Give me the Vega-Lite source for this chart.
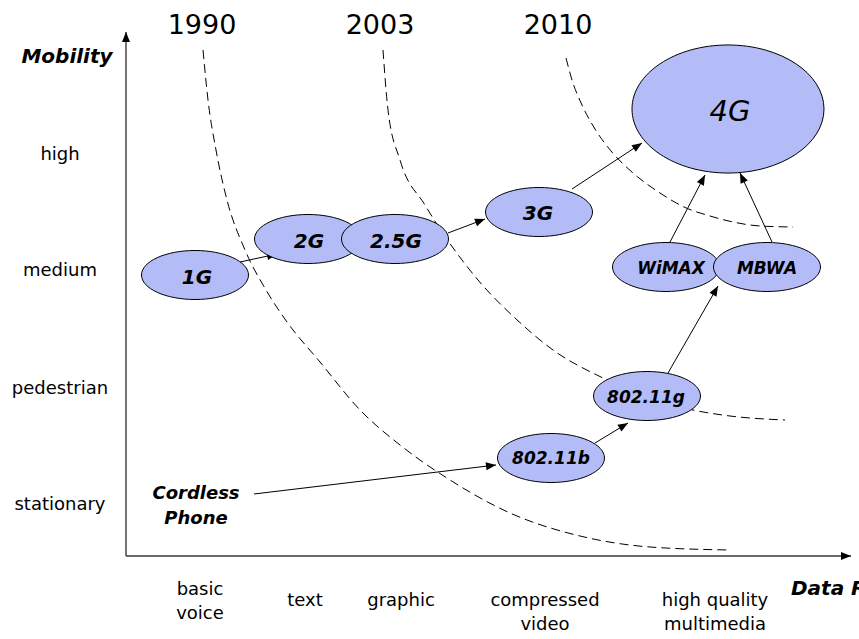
{
  "$schema": "https://vega.github.io/schema/vega-lite/v6.json",
  "width": 859,
  "height": 639,
  "autosize": {"type": "none"},
  "padding": 0,
  "background": "white",
  "config": {"view": {"stroke": null}, "font": "DejaVu Sans"},
  "datasets": {
    "curves": [
      {"curve": "1990", "i": 0, "x": 203, "y": 50},
      {"curve": "1990", "i": 1, "x": 208, "y": 100},
      {"curve": "1990", "i": 2, "x": 216, "y": 150},
      {"curve": "1990", "i": 3, "x": 227, "y": 200},
      {"curve": "1990", "i": 4, "x": 245, "y": 250},
      {"curve": "1990", "i": 5, "x": 266, "y": 290},
      {"curve": "1990", "i": 6, "x": 287, "y": 322},
      {"curve": "1990", "i": 7, "x": 320, "y": 362},
      {"curve": "1990", "i": 8, "x": 360, "y": 410},
      {"curve": "1990", "i": 9, "x": 400, "y": 445},
      {"curve": "1990", "i": 10, "x": 450, "y": 480},
      {"curve": "1990", "i": 11, "x": 510, "y": 513},
      {"curve": "1990", "i": 12, "x": 580, "y": 536},
      {"curve": "1990", "i": 13, "x": 650, "y": 547},
      {"curve": "1990", "i": 14, "x": 730, "y": 550},
      {"curve": "2003", "i": 0, "x": 383, "y": 50},
      {"curve": "2003", "i": 1, "x": 388, "y": 110},
      {"curve": "2003", "i": 2, "x": 400, "y": 160},
      {"curve": "2003", "i": 3, "x": 425, "y": 205},
      {"curve": "2003", "i": 4, "x": 478, "y": 280},
      {"curve": "2003", "i": 5, "x": 515, "y": 318},
      {"curve": "2003", "i": 6, "x": 553, "y": 350},
      {"curve": "2003", "i": 7, "x": 603, "y": 378},
      {"curve": "2003", "i": 8, "x": 650, "y": 398},
      {"curve": "2003", "i": 9, "x": 693, "y": 410},
      {"curve": "2003", "i": 10, "x": 730, "y": 416},
      {"curve": "2003", "i": 11, "x": 785, "y": 420},
      {"curve": "2010", "i": 0, "x": 566, "y": 58},
      {"curve": "2010", "i": 1, "x": 572, "y": 80},
      {"curve": "2010", "i": 2, "x": 582, "y": 105},
      {"curve": "2010", "i": 3, "x": 595, "y": 129},
      {"curve": "2010", "i": 4, "x": 611, "y": 151},
      {"curve": "2010", "i": 5, "x": 633, "y": 173},
      {"curve": "2010", "i": 6, "x": 660, "y": 193},
      {"curve": "2010", "i": 7, "x": 684, "y": 207},
      {"curve": "2010", "i": 8, "x": 710, "y": 216},
      {"curve": "2010", "i": 9, "x": 733, "y": 222},
      {"curve": "2010", "i": 10, "x": 760, "y": 226},
      {"curve": "2010", "i": 11, "x": 793, "y": 227}
    ],
    "arrows": [
      {"kind": "axis", "x1": 126, "y1": 556, "x2": 126, "y2": 32},
      {"kind": "axis", "x1": 126, "y1": 556, "x2": 851, "y2": 556},
      {"kind": "link", "x1": 240, "y1": 262, "x2": 277, "y2": 254},
      {"kind": "link", "x1": 448, "y1": 233, "x2": 485, "y2": 219},
      {"kind": "link", "x1": 572, "y1": 189, "x2": 642, "y2": 143},
      {"kind": "link", "x1": 670, "y1": 242, "x2": 705, "y2": 175},
      {"kind": "link", "x1": 772, "y1": 242, "x2": 740, "y2": 173},
      {"kind": "link", "x1": 668, "y1": 373, "x2": 718, "y2": 286},
      {"kind": "link", "x1": 595, "y1": 443, "x2": 628, "y2": 423},
      {"kind": "link", "x1": 254, "y1": 494, "x2": 496, "y2": 465}
    ],
    "nodes": [
      {"name": "1G", "size": "small", "x": 195, "y": 275},
      {"name": "2G", "size": "small", "x": 308, "y": 239},
      {"name": "2.5G", "size": "small", "x": 395, "y": 239},
      {"name": "3G", "size": "small", "x": 539, "y": 212},
      {"name": "4G", "size": "big", "x": 728, "y": 109},
      {"name": "WiMAX", "size": "small", "x": 666, "y": 267},
      {"name": "MBWA", "size": "small", "x": 767, "y": 267},
      {"name": "802.11g", "size": "small", "x": 647, "y": 396},
      {"name": "802.11b", "size": "small", "x": 551, "y": 458}
    ],
    "labels": [
      {"style": "year", "text": "1990", "x": 202, "y": 26},
      {"style": "year", "text": "2003", "x": 380, "y": 26},
      {"style": "year", "text": "2010", "x": 558, "y": 26},
      {"style": "title", "text": "Mobility", "x": 67, "y": 57},
      {"style": "titleLeft", "text": "Data Rate", "x": 791, "y": 589},
      {"style": "tick", "text": ["high"], "x": 60, "y": 155},
      {"style": "tick", "text": ["medium"], "x": 60, "y": 271},
      {"style": "tick", "text": ["pedestrian"], "x": 60, "y": 389},
      {"style": "tick", "text": ["stationary"], "x": 60, "y": 505},
      {"style": "tick", "text": ["basic", "voice"], "x": 200, "y": 590},
      {"style": "tick", "text": ["text"], "x": 305, "y": 601},
      {"style": "tick", "text": ["graphic"], "x": 401, "y": 601},
      {"style": "tick", "text": ["compressed", "video"], "x": 545, "y": 601},
      {"style": "tick", "text": ["high quality", "multimedia"], "x": 715, "y": 601},
      {"style": "cordless", "text": ["Cordless", "Phone"], "x": 196, "y": 494},
      {"style": "node", "text": "1G", "x": 197, "y": 278},
      {"style": "node", "text": "2G", "x": 309, "y": 242},
      {"style": "node", "text": "2.5G", "x": 396, "y": 242},
      {"style": "node", "text": "3G", "x": 538, "y": 214},
      {"style": "node4g", "text": "4G", "x": 730, "y": 112},
      {"style": "nodeSmall", "text": "WiMAX", "x": 671, "y": 269},
      {"style": "nodeSmall", "text": "MBWA", "x": 767, "y": 269},
      {"style": "nodeSmall", "text": "802.11g", "x": 646, "y": 398},
      {"style": "nodeSmall", "text": "802.11b", "x": 551, "y": 459}
    ]
  },
  "resolve": {"scale": {"x": "shared", "y": "shared"}},
  "encoding": {
    "x": {"field": "x", "type": "quantitative", "axis": null, "scale": {"domain": [0, 859], "nice": false, "zero": false}},
    "y": {"field": "y", "type": "quantitative", "axis": null, "scale": {"domain": [0, 639], "nice": false, "zero": false, "reverse": true}}
  },
  "layer": [
    {
      "data": {"name": "curves"},
      "mark": {"type": "line", "color": "black", "strokeWidth": 1, "strokeDash": [9, 5], "interpolate": "monotone"},
      "encoding": {"detail": {"field": "curve"}, "order": {"field": "i", "type": "quantitative"}}
    },
    {
      "data": {"name": "arrows"},
      "transform": [{"filter": "datum.kind == 'link'"}],
      "mark": {"type": "rule", "color": "black", "strokeWidth": 1},
      "encoding": {
        "x": {"field": "x1", "type": "quantitative"},
        "y": {"field": "y1", "type": "quantitative"},
        "x2": {"field": "x2"},
        "y2": {"field": "y2"}
      }
    },
    {
      "data": {"name": "arrows"},
      "transform": [{"filter": "datum.kind == 'axis'"}],
      "mark": {"type": "rule", "color": "#3a3a3a", "strokeWidth": 1.4},
      "encoding": {
        "x": {"field": "x1", "type": "quantitative"},
        "y": {"field": "y1", "type": "quantitative"},
        "x2": {"field": "x2"},
        "y2": {"field": "y2"}
      }
    },
    {
      "data": {"name": "arrows"},
      "transform": [
        {"calculate": "sqrt(pow(datum.x2 - datum.x1, 2) + pow(datum.y2 - datum.y1, 2))", "as": "len"},
        {"calculate": "atan2(datum.x2 - datum.x1, -(datum.y2 - datum.y1)) * 180 / PI", "as": "ang"},
        {"calculate": "datum.x2 - (datum.x2 - datum.x1) / datum.len * 5", "as": "hx"},
        {"calculate": "datum.y2 - (datum.y2 - datum.y1) / datum.len * 5", "as": "hy"}
      ],
      "mark": {"type": "point", "shape": "M0,-1L-0.8,1L0.8,1Z", "size": 100, "filled": true, "color": "black", "opacity": 1},
      "encoding": {
        "x": {"field": "hx", "type": "quantitative"},
        "y": {"field": "hy", "type": "quantitative"},
        "angle": {"field": "ang", "type": "quantitative", "scale": null}
      }
    },
    {
      "data": {"name": "nodes"},
      "transform": [{"filter": "datum.size == 'small'"}],
      "mark": {"type": "point", "shape": "M-1,0C-1,-0.253,-0.552,-0.458,0,-0.458C0.552,-0.458,1,-0.253,1,0C1,0.253,0.552,0.458,0,0.458C-0.552,0.458,-1,0.253,-1,0Z", "size": 11449, "filled": true, "fill": "#B3BCF6", "stroke": "black", "strokeWidth": 1, "opacity": 1, "fillOpacity": 1}
    },
    {
      "data": {"name": "nodes"},
      "transform": [{"filter": "datum.size == 'big'"}],
      "mark": {"type": "point", "shape": "M-1,0C-1,-0.368,-0.552,-0.667,0,-0.667C0.552,-0.667,1,-0.368,1,0C1,0.368,0.552,0.667,0,0.667C-0.552,0.667,-1,0.368,-1,0Z", "size": 36864, "filled": true, "fill": "#B3BCF6", "stroke": "black", "strokeWidth": 1, "opacity": 1, "fillOpacity": 1}
    },
    {
      "data": {"name": "labels"},
      "transform": [{"filter": "datum.style == 'year'"}],
      "mark": {"type": "text", "fontSize": 27, "align": "center", "baseline": "middle", "color": "black"},
      "encoding": {"text": {"field": "text"}}
    },
    {
      "data": {"name": "labels"},
      "transform": [{"filter": "datum.style == 'title'"}],
      "mark": {"type": "text", "fontSize": 20, "fontWeight": "bold", "fontStyle": "italic", "align": "center", "baseline": "middle", "color": "black"},
      "encoding": {"text": {"field": "text"}}
    },
    {
      "data": {"name": "labels"},
      "transform": [{"filter": "datum.style == 'titleLeft'"}],
      "mark": {"type": "text", "fontSize": 20, "fontWeight": "bold", "fontStyle": "italic", "align": "left", "baseline": "middle", "color": "black"},
      "encoding": {"text": {"field": "text"}}
    },
    {
      "data": {"name": "labels"},
      "transform": [{"filter": "datum.style == 'tick'"}],
      "mark": {"type": "text", "fontSize": 18, "lineHeight": 24, "align": "center", "baseline": "middle", "color": "black"},
      "encoding": {"text": {"field": "text"}}
    },
    {
      "data": {"name": "labels"},
      "transform": [{"filter": "datum.style == 'cordless'"}],
      "mark": {"type": "text", "fontSize": 18, "lineHeight": 25, "fontWeight": "bold", "fontStyle": "italic", "align": "center", "baseline": "middle", "color": "black"},
      "encoding": {"text": {"field": "text"}}
    },
    {
      "data": {"name": "labels"},
      "transform": [{"filter": "datum.style == 'node'"}],
      "mark": {"type": "text", "fontSize": 20, "fontWeight": "bold", "fontStyle": "italic", "align": "center", "baseline": "middle", "color": "black"},
      "encoding": {"text": {"field": "text"}}
    },
    {
      "data": {"name": "labels"},
      "transform": [{"filter": "datum.style == 'nodeSmall'"}],
      "mark": {"type": "text", "fontSize": 17, "fontWeight": "bold", "fontStyle": "italic", "align": "center", "baseline": "middle", "color": "black"},
      "encoding": {"text": {"field": "text"}}
    },
    {
      "data": {"name": "labels"},
      "transform": [{"filter": "datum.style == 'node4g'"}],
      "mark": {"type": "text", "fontSize": 29, "fontStyle": "italic", "align": "center", "baseline": "middle", "color": "black"},
      "encoding": {"text": {"field": "text"}}
    }
  ]
}
